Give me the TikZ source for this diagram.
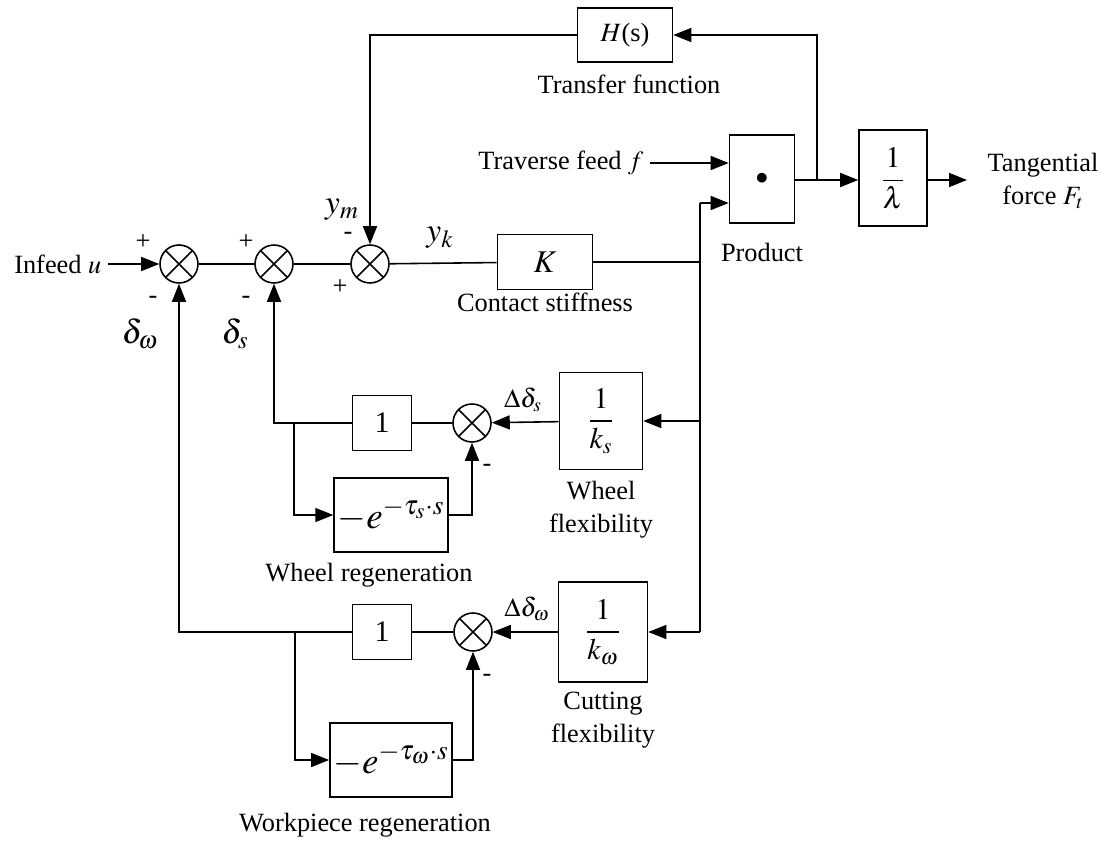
\documentclass[tikz,border=0pt]{standalone}
\usepackage{amsmath}
\usepackage{mathptmx}
\usepackage{fontspec}
\setmainfont{Liberation Serif}
\usetikzlibrary{arrows.meta}

\begin{document}
\begin{tikzpicture}[x=0.02cm,y=-0.02cm,>={Triangle[length=3.6mm,width=2.8mm]},line width=0.9pt,
  every node/.append style={font=\fontsize{15}{19}\selectfont},
  sumx/.style={draw,circle,minimum size=0.76cm,inner sep=0pt,
    path picture={\draw (path picture bounding box.north west)--(path picture bounding box.south east)
      (path picture bounding box.south west)--(path picture bounding box.north east);}},
  blk/.style={draw,inner sep=2pt},
  big/.style={font=\fontsize{19}{22}\selectfont}]
\useasboundingbox (0,0) rectangle (1111,841);
% summing junctions
\node[sumx] (S1) at (179,264) {};
\node[sumx] (S2) at (274,264) {};
\node[sumx] (S3) at (370,264) {};
\node[sumx] (S4) at (472,423) {};
\node[sumx] (S5) at (473,632) {};
% blocks
\node[blk,minimum width=1.9cm,minimum height=1.08cm] (hs) at (625,35) {$H$(s)};
\node[blk,minimum width=1.9cm,minimum height=1.1cm,font=\fontsize{18}{20}\selectfont] (k) at (545,262) {$K$};
\node[blk,minimum width=1.3cm,minimum height=1.76cm] (prod) at (762,179) {\Large$\bullet$};
\node[blk,minimum width=1.36cm,minimum height=1.92cm,font=\fontsize{17}{20}\selectfont] (lam) at (893,178) {$\dfrac{1}{\lambda}$};
\node[blk,minimum width=1.66cm,minimum height=1.94cm,font=\fontsize{17}{20}\selectfont] (ks) at (601,421) {$\dfrac{1}{k_s}$};
\node[blk,minimum width=1.78cm,minimum height=2cm,font=\fontsize{17}{20}\selectfont] (kw) at (603,632) {$\dfrac{1}{k_\omega}$};
\node[blk,minimum width=1.18cm,minimum height=1.1cm,font=\fontsize{17}{20}\selectfont] (one1) at (382,423) {1};
\node[blk,minimum width=1.18cm,minimum height=1.1cm,font=\fontsize{17}{20}\selectfont] (one2) at (382,632) {1};
\node[blk,font=\fontsize{21}{24}\selectfont,minimum width=2.26cm,minimum height=1.48cm] (es) at (391,515) {$-e^{-\tau_s\cdot s}$};
\node[blk,font=\fontsize{21}{24}\selectfont,minimum width=2.3cm,minimum height=1.48cm] (ew) at (391,760) {$-e^{-\tau_\omega\cdot s}$};
% texts
\node[anchor=east] (infeed) at (108,264) {Infeed $u$};
\node[anchor=east] (tf) at (650,163) {Traverse feed $f$};
\node[align=center] (Ft) at (1043,181) {Tangential\\force $F_t$};
\node at (629,84) {Transfer function};
\node at (545,302) {Contact stiffness};
\node at (762,252) {Product};
\node[align=center] at (601,510) {Wheel\\flexibility};
\node[align=center] at (603,720) {Cutting\\flexibility};
\node at (369,575) {Wheel regeneration};
\node at (365,825) {Workpiece regeneration};
\node at (143,242) {+};
\node at (246,242) {+};
\node at (340,287) {+};
\node at (153,300) {-};
\node at (246,300) {-};
\node at (348,236) {-};
\node at (487,468) {-};
\node at (487,678) {-};
\node[big] at (140,334) {$\delta_\omega$};
\node[big] at (235,334) {$\delta_s$};
\node[big] at (342,210) {$y_m$};
\node[big] at (440,238) {$y_k$};
\node at (523,400) {$\Delta\delta_s$};
\node at (527,609) {$\Delta\delta_\omega$};
% junction points
\coordinate (jin) at (700,203);
\coordinate (jout) at (817,180);
\coordinate (out) at (967,180);
\coordinate (b1) at (294,423);
\coordinate (b2) at (295,632);
% forward path
\draw[->] (infeed) -- (S1);
\draw (S1) -- (S2);
\draw (S2) -- (S3);
\draw (S3) -- (k);
\draw (k) -- (k -| jin);
\draw[->] (tf) -- (tf -| prod.west);
\draw[->] (jin) -- (jin -| prod.west);
\draw[->] (prod.east |- jout) -- (lam.west |- jout);
\draw[->] (lam.east |- out) -- (out);
\draw[->] (jout) |- (hs);
\draw[->] (hs) -| (S3);
% flexibility loops
\draw (jin) -- (jin |- kw);
\draw[->] (jin |- ks) -- (ks);
\draw[->] (jin |- kw) -- (kw);
\draw[->] (ks) -- (S4);
\draw (S4) -- (one1);
\draw[->] (one1) -| (S2);
\draw[->] (b1) |- (es);
\draw[->] (es) -| (S4);
\draw[->] (kw) -- (S5);
\draw (S5) -- (one2);
\draw[->] (one2) -| (S1);
\draw[->] (b2) |- (ew);
\draw[->] (ew) -| (S5);
\end{tikzpicture}
\end{document}
